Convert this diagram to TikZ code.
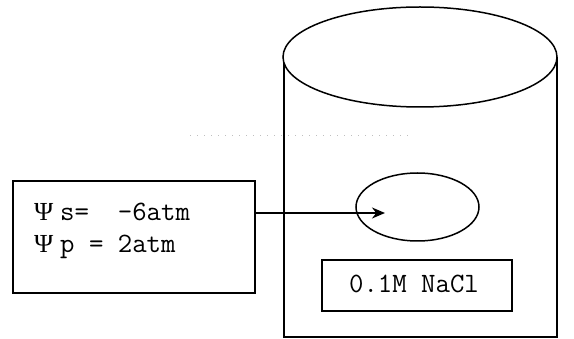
\documentclass[tikz,border=0pt]{standalone}
\usepackage{fontspec}
\setmainfont{Liberation Serif}
\usetikzlibrary{arrows.meta,shapes.geometric}
\tikzset{
  line/.style={draw=black, line width=1.5pt},
  txt/.style={inner sep=0pt, anchor=base west, font=\ttfamily\fontsize{28}{28}\selectfont},
  psi/.style={inner sep=0pt, anchor=base west, font=\rmfamily\fontsize{26}{26}\selectfont},
}
\begin{document}
\begin{tikzpicture}[x=1pt,y=-1pt]
\useasboundingbox (0,0) rectangle (574,339);
% cylinder
\draw[line] (284,57) -- (284,337) -- (557,337) -- (557,57);
\draw[line, fill=white] (420,57) ellipse [x radius=137, y radius=50];
\coordinate (cyl) at (420,57);
% faint scan dots
\draw[gray!50, line width=0.6pt, dash pattern=on 1pt off 6pt] (190,135) -- (408,135);
% inner ellipse
\node[line, ellipse, minimum width=123, minimum height=68, inner sep=0pt] (cell) at (417.5,207) {};
% NaCl box
\node[line, rectangle, minimum width=190, minimum height=51, inner sep=0pt] (nacl) at (417,285.5) {};
\node[txt, anchor=base] (nacltxt) at (414,293) {0.1M NaCl};
% left box
\node[line, rectangle, minimum width=242, minimum height=112, inner sep=0pt] (box) at (134,237) {};
\node[psi] (psi1) at (34,221) {Ψ};
\node[txt] (l1) at (60,221) {s=~~-6atm};
\node[psi] (psi2) at (34,253) {Ψ};
\node[txt] (l2) at (60,253) {p = 2atm};
% arrow
\coordinate (tip) at (385,213);
\draw[line, line width=1.8pt, -{Stealth[length=13pt, width=11pt]}] (box.east |- tip) -- (tip);
\end{tikzpicture}
\end{document}
